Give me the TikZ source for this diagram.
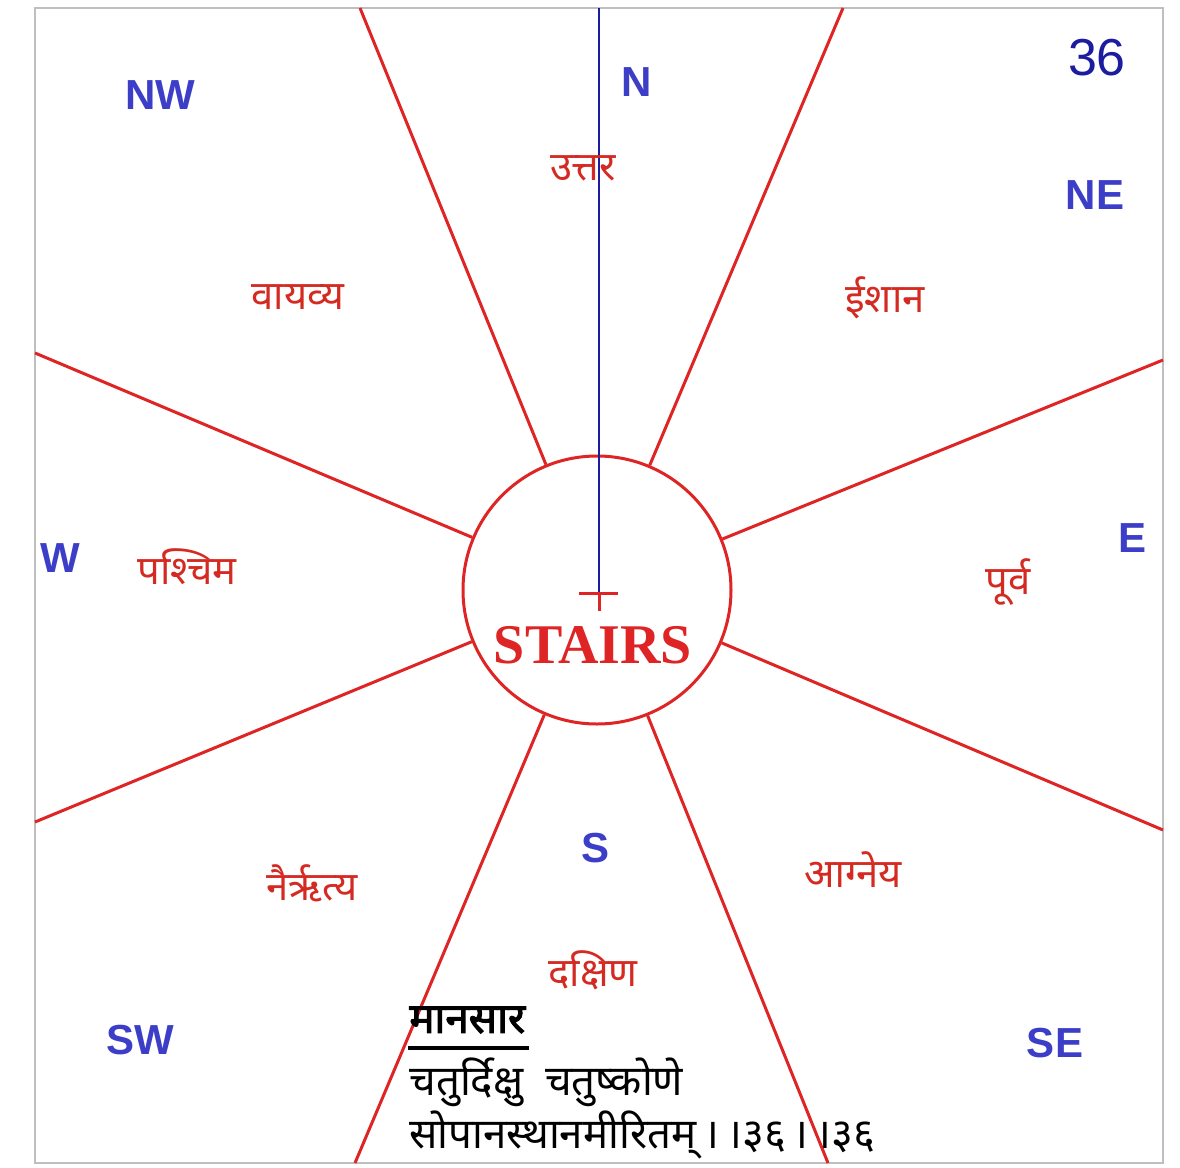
\documentclass[tikz,border=0pt]{standalone}
\usepackage{fontspec}
\setmainfont{Liberation Serif}
\setsansfont{Liberation Sans}
\newfontfamily\devfont[Script=Devanagari]{Noto Sans}
\newfontfamily\devbold[Script=Devanagari,FakeBold=2.5]{Noto Sans}
\usepackage{xcolor}
\usetikzlibrary{positioning,calc}
\definecolor{spokered}{HTML}{DE2424}
\definecolor{labred}{HTML}{D42A22}
\definecolor{dirblue}{HTML}{3C3EC8}
\definecolor{darkblue}{HTML}{1C1CA0}
\tikzset{
  spoke/.style   ={draw=spokered,line width=1.5pt},
  hubcirc/.style ={circle,draw=spokered,line width=1.5pt,inner sep=0pt,minimum size=134pt},
  dirlab/.style  ={font=\sffamily\bfseries\fontsize{21}{24}\selectfont,text=dirblue,inner sep=0pt},
  zonelab/.style ={font=\devfont\fontsize{20}{23}\selectfont,text=labred,inner sep=0pt},
  verse/.style   ={font=\devfont\fontsize{21}{24}\selectfont,anchor=west,inner sep=0pt},
}

\begin{document}
\begin{tikzpicture}[x=0.5pt,y=-0.5pt]
\useasboundingbox (0,0) rectangle (1180,1168);
\fill[white] (0,0) rectangle (1180,1168);
\draw[black!25,line width=0.6pt] (35,8) rectangle (1163,1163);

% --- hub and spokes --------------------------------------------------------
\node[hubcirc] (hub) at (597,590) {};
\coordinate (pnnw) at (360,8);
\coordinate (pnne) at (843,8);
\coordinate (pene) at (1163,360);
\coordinate (pese) at (1163,830);
\coordinate (psse) at (828,1163);
\coordinate (pssw) at (355,1163);
\coordinate (pwsw) at (35,822);
\coordinate (pwnw) at (35,353);
\draw[spoke] (hub) -- (pnnw);
\draw[spoke] (hub) -- (pnne);
\draw[spoke] (hub) -- (pene);
\draw[spoke] (hub) -- (pese);
\draw[spoke] (hub) -- (psse);
\draw[spoke] (hub) -- (pssw);
\draw[spoke] (hub) -- (pwsw);
\draw[spoke] (hub) -- (pwnw);

% --- north needle ----------------------------------------------------------
\coordinate (ntop) at (599,8);
\coordinate (mark) at (599,593);
\draw[darkblue,line width=1.1pt] (ntop) -- (mark);
\draw[spokered,line width=1.5pt] ($(mark)+(-20,0)$) -- ($(mark)+(19,0)$);
\draw[spokered,line width=1.5pt] (mark) -- ($(mark)+(0,18)$);
\node[font=\rmfamily\bfseries\fontsize{28}{30}\selectfont,text=spokered,inner sep=0pt]
  (stairs) at (593,645) {STAIRS};

% --- directions ------------------------------------------------------------
\node[dirlab] (nw) at (160,95)   {NW};
\node[dirlab] (n)  at (637,82)   {N};
\node[dirlab] (ne) at (1095,195) {NE};
\node[dirlab] (e)  at (1133,538) {E};
\node[dirlab] (w)  at (60,558)   {W};
\node[dirlab] (s)  at (596,848)  {S};
\node[dirlab] (sw) at (140,1040) {SW};
\node[dirlab] (se) at (1055,1043) {SE};
\node[font=\sffamily\fontsize{26}{28}\selectfont,text=darkblue,inner sep=0pt]
  (pgno) at (1097,58) {36};

% --- zones -----------------------------------------------------------------
\node[zonelab] (uttar)  at (583,168) {उत्तर};
\node[zonelab] (ishan)  at (885,298) {ईशान};
\node[zonelab] (vayav)  at (298,297) {वायव्य};
\node[zonelab] (pasch)  at (187,567) {पश्चिम};
\node[zonelab] (purva)  at (1008,582) {पूर्व};
\node[zonelab] (nairr)  at (312,883) {नैर्ऋत्य};
\node[zonelab] (agney)  at (853,870) {आग्नेय};
\node[zonelab] (daksh)  at (593,970) {दक्षिण};

% --- verse -----------------------------------------------------------------
\node[verse,font=\devbold\fontsize{21}{24}\selectfont] (title) at (409,1020) {मानसार};
\draw[black,line width=1.8pt] ($(title.south west)+(-1,14)$) -- ($(title.south east)+(3,14)$);
\node[verse] (line1) at (409,1082) {चतुर्दिक्षु\ \ चतुष्कोणे};
\node[verse] (line2) at (409,1135) {सोपानस्थानमीरितम्\,।\,।३६\,।\,।३६};

\end{tikzpicture}
\end{document}
